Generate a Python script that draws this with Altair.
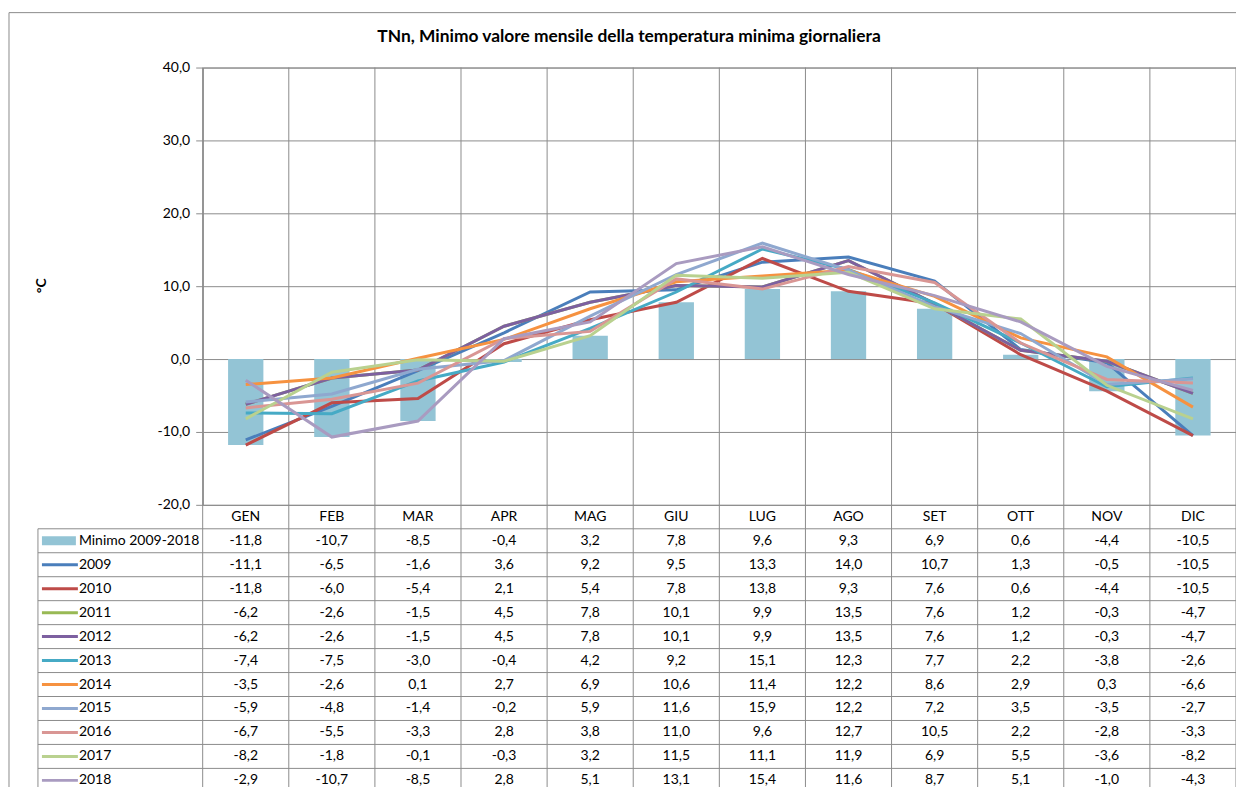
import altair as alt
import pandas as pd

months = ["GEN", "FEB", "MAR", "APR", "MAG", "GIU", "LUG", "AGO", "SET", "OTT", "NOV", "DIC"]
minimo = [-11.8, -10.7, -8.5, -0.4, 3.2, 7.8, 9.6, 9.3, 6.9, 0.6, -4.4, -10.5]
y2009 = [-11.1, -6.5, -1.6, 3.6, 9.2, 9.5, 13.3, 14.0, 10.7, 1.3, -0.5, -10.5]
y2010 = [-11.8, -6.0, -5.4, 2.1, 5.4, 7.8, 13.8, 9.3, 7.6, 0.6, -4.4, -10.5]
y2011 = [-6.2, -2.6, -1.5, 4.5, 7.8, 10.1, 9.9, 13.5, 7.6, 1.2, -0.3, -4.7]
y2012 = [-6.2, -2.6, -1.5, 4.5, 7.8, 10.1, 9.9, 13.5, 7.6, 1.2, -0.3, -4.7]
y2013 = [-7.4, -7.5, -3.0, -0.4, 4.2, 9.2, 15.1, 12.3, 7.7, 2.2, -3.8, -2.6]
y2014 = [-3.5, -2.6, 0.1, 2.7, 6.9, 10.6, 11.4, 12.2, 8.6, 2.9, 0.3, -6.6]
y2015 = [-5.9, -4.8, -1.4, -0.2, 5.9, 11.6, 15.9, 12.2, 7.2, 3.5, -3.5, -2.7]
y2016 = [-6.7, -5.5, -3.3, 2.8, 3.8, 11.0, 9.6, 12.7, 10.5, 2.2, -2.8, -3.3]
y2017 = [-8.2, -1.8, -0.1, -0.3, 3.2, 11.5, 11.1, 11.9, 6.9, 5.5, -3.6, -8.2]
y2018 = [-2.9, -10.7, -8.5, 2.8, 5.1, 13.1, 15.4, 11.6, 8.7, 5.1, -1.0, -4.3]

years = ["2009", "2010", "2011", "2012", "2013", "2014", "2015", "2016", "2017", "2018"]
year_values = [y2009, y2010, y2011, y2012, y2013, y2014, y2015, y2016, y2017, y2018]
year_colors = ["#4A7EBB", "#BE4B48", "#98B954", "#7D60A0", "#46AAC5",
               "#F69240", "#8FA8CF", "#D99694", "#B9D18F", "#A99BC0"]
bar_label = "Minimo 2009-2018"
bar_color = "#93C4D5"
title_text = "TNn, Minimo valore mensile della temperatura minima giornaliera"

GRID = "#8c8c8c"
FONT = "Lato"
FS = 14


def fmt(v):
    return f"{v:.1f}".replace(".", ",")


# ---- data tables
bars_df = pd.DataFrame({"month": months, "value": minimo})
lines_rows = []
for y, vals in zip(years, year_values):
    for i, (m, v) in enumerate(zip(months, vals)):
        lines_rows.append({"series": y, "month": m, "idx": i, "value": v})
lines_df = pd.DataFrame(lines_rows)

table_rows = []
for i, m in enumerate(months):
    table_rows.append({"month": m, "ypos": 0.5, "label": m})
all_series = [minimo] + year_values
for r, vals in enumerate(all_series, start=1):
    for m, v in zip(months, vals):
        table_rows.append({"month": m, "ypos": r + 0.5, "label": fmt(v)})
table_df = pd.DataFrame(table_rows)

legend_df = pd.DataFrame({
    "name": [bar_label] + years,
    "ypos": [r + 0.5 for r in range(1, 12)],
    "top": [r + 0.31 for r in range(1, 12)],
    "bot": [r + 0.69 for r in range(1, 12)],
    "color": [bar_color] + year_colors,
})

hlines_df = pd.DataFrame({"b": list(range(1, 13))})
vlines_df = pd.DataFrame({"month": months})

W, H = 1035, 438
x_scale = alt.Scale(type="band", domain=months, paddingInner=0, paddingOuter=0)
t_scale = alt.Scale(domain=[-20, 40], range=[H, 0], nice=False, zero=False)
tab_scale = alt.Scale(domain=[0, 12], range=[H, H + 12 * 24], nice=False, zero=False)

label_expr = "(datum.value < 0 ? '-' : '') + replace(format(abs(datum.value), '.1f'), '.', ',')"

bars = alt.Chart(bars_df).mark_bar(width=alt.RelativeBandSize(0.41), color=bar_color).encode(
    x=alt.X("month:N", scale=x_scale, axis=None),
    y=alt.Y("value:Q", scale=t_scale,
            axis=alt.Axis(values=[-20, -10, 0, 10, 20, 30, 40], labelExpr=label_expr,
                          grid=True, gridColor=GRID, domainColor=GRID, tickColor=GRID,
                          tickSize=7, labelPadding=6, labelFont=FONT, labelFontSize=FS,
                          labelColor="#000", title="°C", titleFont=FONT, titleFontSize=14,
                          titleFontWeight="bold", titleColor="#000", titleX=-161, titleY=218,
                          titleAngle=-90, titleBaseline="middle", titleAlign="center")),
)

lines = alt.Chart(lines_df).mark_line(strokeWidth=3).encode(
    x=alt.X("month:N", scale=x_scale, axis=None, bandPosition=0.5),
    y=alt.Y("value:Q", scale=t_scale, axis=None),
    color=alt.Color("series:N", scale=alt.Scale(domain=years, range=year_colors), legend=None),
    order=alt.Order("idx:Q"),
)

table_text = alt.Chart(table_df).mark_text(font=FONT, fontSize=FS, color="#000", baseline="middle").encode(
    x=alt.X("month:N", scale=x_scale, axis=None, bandPosition=0.5),
    y=alt.Y("ypos:Q", scale=tab_scale, axis=None),
    text="label:N",
)

hlines = alt.Chart(hlines_df).mark_rule(color=GRID, strokeWidth=1).encode(
    x=alt.value(-165), x2=alt.value(W),
    y=alt.Y("b:Q", scale=tab_scale, axis=None),
)

vlines = alt.Chart(vlines_df).mark_rule(color=GRID, strokeWidth=1).encode(
    x=alt.X("month:N", scale=x_scale, axis=None, bandPosition=0),
    y=alt.value(0), y2=alt.value(H + 12 * 24),
)
vline_end = alt.Chart(pd.DataFrame({"month": [months[-1]]})).mark_rule(color=GRID, strokeWidth=1).encode(
    x=alt.X("month:N", scale=x_scale, axis=None, bandPosition=1),
    y=alt.value(0), y2=alt.value(H + 12 * 24),
)
leg_border = alt.Chart(pd.DataFrame({"a": [1], "b": [12]})).mark_rule(color=GRID, strokeWidth=1).encode(
    x=alt.value(-165),
    y=alt.Y("a:Q", scale=tab_scale, axis=None), y2="b:Q",
)

leg_rect = alt.Chart(legend_df.iloc[:1]).mark_rect().encode(
    x=alt.value(-161), x2=alt.value(-127),
    y=alt.Y("top:Q", scale=tab_scale, axis=None), y2="bot:Q",
    color=alt.Color("color:N", scale=None),
)
leg_lines = alt.Chart(legend_df.iloc[1:]).mark_rule(strokeWidth=3).encode(
    x=alt.value(-161), x2=alt.value(-125),
    y=alt.Y("ypos:Q", scale=tab_scale, axis=None),
    color=alt.Color("color:N", scale=None),
)
leg_text = alt.Chart(legend_df).mark_text(font=FONT, fontSize=FS, color="#000", align="left",
                                          baseline="middle").encode(
    x=alt.value(-124),
    y=alt.Y("ypos:Q", scale=tab_scale, axis=None),
    text="name:N",
)

frame_top = alt.Chart(pd.DataFrame({"a": [0]})).mark_rule(color=GRID, strokeWidth=1).encode(
    x=alt.value(-194), x2=alt.value(W + 20), y=alt.value(-55))
frame_left = alt.Chart(pd.DataFrame({"a": [0]})).mark_rule(color=GRID, strokeWidth=1).encode(
    x=alt.value(-194), y=alt.value(-55), y2=alt.value(H + 12 * 24))

title = alt.Chart(pd.DataFrame({"t": [title_text]})).mark_text(
    font=FONT, fontSize=17.4, fontWeight="bold", color="#000", baseline="middle", align="center"
).encode(x=alt.value(427), y=alt.value(-31), text="t:N")

chart = alt.layer(
    frame_top, frame_left, vlines, vline_end, hlines, leg_border,
    bars, lines, table_text, leg_rect, leg_lines, leg_text, title,
).resolve_scale(y="independent").properties(
    width=W, height=H,
    autosize=alt.AutoSizeParams(type="none"),
    padding={"left": 195, "top": 59, "right": 0, "bottom": 282},
).configure_view(stroke=GRID, strokeWidth=1)

chart.save("out.html", embed_options={"renderer": "svg", "actions": False})
